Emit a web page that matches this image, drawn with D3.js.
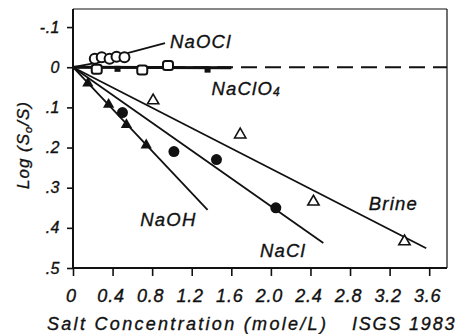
<!DOCTYPE html>
<html>
<head>
<meta charset="utf-8">
<script src="https://cdn.jsdelivr.net/npm/d3@7"></script>
<style>
  body { margin: 0; background: #fff; }
  svg text { font-family: 'Liberation Sans', Arial, sans-serif; font-style: italic; fill: #111; stroke: #111; stroke-width: 0.35px; }
</style>
</head>
<body>
<div class="container"></div>
<script>
// tick values / labels
let xTicks = [0, 0.4, 0.8, 1.2, 1.6, 2.0, 2.4, 2.8, 3.2, 3.6];
let xTickLabels = ['0', '0.4', '0.8', '1.2', '1.6', '2.0', '2.4', '2.8', '3.2', '3.6'];
let yTicks = [-0.1, 0, 0.1, 0.2, 0.3, 0.4, 0.5];
let yTickLabels = ['-.1', '0', '.1', '.2', '.3', '.4', '.5'];

// measured points (salt conc, log(So/S))
let naoclPts = [[0.22, -0.021], [0.29, -0.025], [0.37, -0.021], [0.44, -0.026], [0.52, -0.025]];
let naclo4Pts = [[0.24, 0.005], [0.70, 0.007], [0.96, -0.004]];
let naclo4Small = [[0.45, 0.004], [1.36, 0.006]];
let naohPts = [[0.15, 0.04], [0.36, 0.093], [0.54, 0.143], [0.74, 0.194]];
let naclPts = [[0.5, 0.113], [1.02, 0.21], [1.45, 0.23], [2.05, 0.35]];
let brinePts = [[0.81, 0.083], [1.69, 0.168], [2.43, 0.335], [3.35, 0.434]];

// fitted lines: [start, end]
let naoclLine = [[0, 0], [0.52, -0.024]];
let naocLeader = [[0.55, -0.035], [0.93, -0.06]];
let naclo4Line = [[0, 0], [1.6, 0.001]];
let naohLine = [[0, 0], [1.36, 0.355]];
let naclLine = [[0, 0], [2.53, 0.438]];
let brineLine = [[0, 0], [3.57, 0.451]];

let labels = [
  { t: 'NaOCl', x: 0.98, y: -0.047 },
  { t: 'NaClO', sub: '4', x: 1.4, y: 0.07 },
  { t: 'NaOH', x: 0.68, y: 0.395 },
  { t: 'NaCl', x: 1.89, y: 0.472 },
  { t: 'Brine', x: 2.99, y: 0.355 }
];

let W = 464, H = 334;
let svg = d3.select('.container').append('svg').attr('width', W).attr('height', H);

let x = d3.scaleLinear().domain([0, 3.78]).range([73, 447]);
let y = d3.scaleLinear().domain([-0.145, 0.5]).range([9, 268]);

// frame
svg.append('line').attr('x1', 73).attr('x2', 447).attr('y1', 9).attr('y2', 9).attr('stroke', '#111').attr('stroke-width', 1);
svg.append('line').attr('x1', 447).attr('x2', 447).attr('y1', 9).attr('y2', 268).attr('stroke', '#111').attr('stroke-width', 1.2);

let xAxis = svg.append('g').attr('transform', 'translate(0,268)')
  .call(d3.axisBottom(x).tickValues(xTicks).tickSize(8).tickPadding(13).tickFormat((d, i) => xTickLabels[i]));
let yAxis = svg.append('g').attr('transform', 'translate(73,0)')
  .call(d3.axisLeft(y).tickValues(yTicks).tickSize(6).tickPadding(7).tickFormat((d, i) => yTickLabels[i]));

[xAxis, yAxis].forEach((g) => {
  g.select('.domain').attr('stroke', '#111').attr('stroke-width', 2);
  g.selectAll('.tick line').attr('stroke', '#111').attr('stroke-width', 1.6);
  g.selectAll('text').style('font-family', "'Liberation Sans', Arial, sans-serif")
    .style('font-style', 'italic').attr('fill', '#111');
});
xAxis.selectAll('text').style('font-size', '18px').style('letter-spacing', '0.8px').attr('dx', -2);
yAxis.selectAll('text').style('font-size', '16px').style('letter-spacing', '0.5px');
xAxis.select('.domain').attr('d', 'M73,0H447');
yAxis.select('.domain').attr('d', 'M0,9V268');

// dashed zero line
svg.append('line').attr('x1', x(0)).attr('x2', 447).attr('y1', y(0)).attr('y2', y(0))
  .attr('stroke', '#111').attr('stroke-width', 2).attr('stroke-dasharray', '16,8');

let line = d3.line().x((d) => x(d[0])).y((d) => y(d[1]));
[naoclLine, naocLeader, naohLine, naclLine, brineLine].forEach((l) => {
  svg.append('path').attr('d', line(l)).attr('fill', 'none').attr('stroke', '#111').attr('stroke-width', 1.8);
});
svg.append('path').attr('d', line(naclo4Line)).attr('fill', 'none').attr('stroke', '#111').attr('stroke-width', 3);

// markers
let g = svg.append('g');
g.selectAll('.oc').data(naoclPts).enter().append('circle')
  .attr('cx', (d) => x(d[0])).attr('cy', (d) => y(d[1])).attr('r', 5)
  .attr('fill', '#fff').attr('stroke', '#111').attr('stroke-width', 2);
g.selectAll('.sq').data(naclo4Pts).enter().append('rect')
  .attr('x', (d) => x(d[0]) - 5).attr('y', (d) => y(d[1]) - 4.5).attr('width', 10).attr('height', 9).attr('rx', 2.5)
  .attr('fill', '#fff').attr('stroke', '#111').attr('stroke-width', 2);
g.selectAll('.sm').data(naclo4Small).enter().append('rect')
  .attr('x', (d) => x(d[0]) - 3).attr('y', (d) => y(d[1]) - 3).attr('width', 6).attr('height', 6)
  .attr('fill', '#111');
g.selectAll('.fc').data(naclPts).enter().append('circle')
  .attr('cx', (d) => x(d[0])).attr('cy', (d) => y(d[1])).attr('r', 5.5).attr('fill', '#111');
let tri = d3.symbol().type(d3.symbolTriangle).size(55);
g.selectAll('.ft').data(naohPts).enter().append('path')
  .attr('transform', (d) => 'translate(' + x(d[0]) + ',' + y(d[1]) + ')').attr('d', tri).attr('fill', '#111');
g.selectAll('.ot').data(brinePts).enter().append('path')
  .attr('transform', (d) => 'translate(' + x(d[0]) + ',' + y(d[1]) + ')').attr('d', tri)
  .attr('fill', '#fff').attr('stroke', '#111').attr('stroke-width', 1.6);

// series labels
labels.forEach((l) => {
  let t = svg.append('text').attr('x', x(l.x)).attr('y', y(l.y)).style('font-size', '18.5px').style('letter-spacing', '1.2px').text(l.t);
  if (l.sub) t.append('tspan').attr('dy', 1).style('font-size', '12px').text(l.sub);
});

// axis titles
let yt = svg.append('text').attr('transform', 'translate(29,145) rotate(-90)').attr('text-anchor', 'middle')
  .style('font-size', '17px').style('letter-spacing', '1px');
yt.append('tspan').text('Log (S');
yt.append('tspan').attr('dy', 3).style('font-size', '11px').text('o');
yt.append('tspan').attr('dy', -3).text('/S)');
svg.append('text').attr('x', 47).attr('y', 330).style('font-size', '18px').style('letter-spacing', '2.3px').text('Salt Concentration (mole/L)');
svg.append('text').attr('x', 352).attr('y', 330).style('font-size', '18px').style('letter-spacing', '1.8px').text('ISGS 1983');
</script>
</body>
</html>
